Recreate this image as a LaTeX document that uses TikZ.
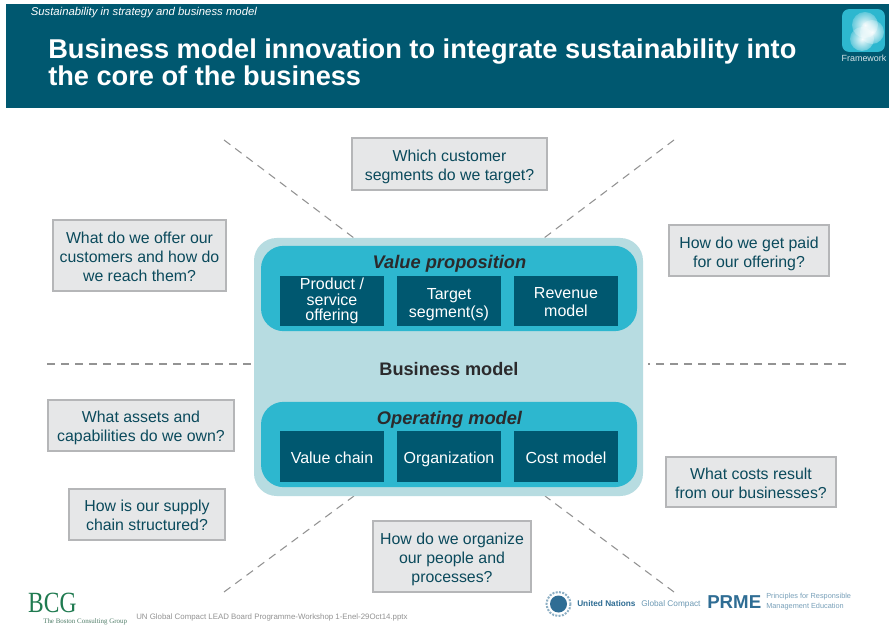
\documentclass[tikz,border=0pt]{standalone}
\usepackage{fontspec}
\setmainfont{Liberation Sans}
\newfontfamily\logoserif{Liberation Serif}
\usetikzlibrary{positioning,calc,fadings}
\definecolor{headblue}{HTML}{005870}
\definecolor{teal}{HTML}{2DB7CF}
\definecolor{paleteal}{HTML}{B7DCE1}
\definecolor{qfill}{HTML}{E6E7E8}
\definecolor{qedge}{HTML}{B5B6B8}
\definecolor{qtext}{HTML}{0B4A5C}
\definecolor{dtext}{HTML}{2B2A2C}
\definecolor{dashc}{HTML}{939393}
\definecolor{bcggreen}{HTML}{1F7A50}
\definecolor{unblue}{HTML}{2F6D94}
\tikzset{
  x=0.75pt,y=-0.75pt,
  qbox/.style={draw=qedge,line width=0.9pt,fill=qfill,text=qtext,inner sep=0pt,outer sep=0pt,align=center,font=\fontsize{11.9}{14.2}\selectfont},
  darkbox/.style={fill=headblue,text=white,inner sep=0pt,outer sep=0pt,align=center,minimum width=78pt,minimum height=38pt,font=\fontsize{12}{13.5}\selectfont},
  band/.style={fill=teal,rounded corners=17pt,minimum width=282pt,minimum height=64pt,inner sep=0pt,outer sep=0pt},
  guide/.style={dashc,line width=0.8pt,dash pattern=on 6pt off 4.5pt},
  glow/.style={fill=white,path fading=glowfade},
}
\tikzfading[name=glowfade,inner color=transparent!5,outer color=transparent!75]
\newcommand{\qnode}[7]{% name x0 y0 x1 y1 topstrut text
  \node[qbox,minimum width={(#4-#2)*0.75pt},minimum height={(#5-#3)*0.75pt}] (#1) at ({(#2+#4)/2},{(#3+#5)/2}) {\rule{0pt}{#6pt}#7};}
\begin{document}
\begin{tikzpicture}
\useasboundingbox (0,0) rectangle (889,627);
\fill[white] (0,0) rectangle (889,627);
% header
\node[fill=headblue,minimum width=662.25pt,minimum height=78pt,inner sep=0pt,outer sep=0pt] (header) at (447.5,56) {};
\node[anchor=west,text=white,font=\itshape\fontsize{8.5}{10}\selectfont,inner sep=0pt] (kicker) at (30.5,13) {Sustainability in strategy and business model};
\node[anchor=west,text=white,font=\bfseries\fontsize{20.4}{19}\selectfont,align=left,inner sep=0pt] (title) at (48,62.5) {Business model innovation to integrate sustainability into\\the core of the business};
% framework icon
\node[fill=teal,rounded corners=5pt,minimum width=32pt,minimum height=32pt,inner sep=0pt] (icon) at (863.5,30.5) {};
\fill[glow] (865,25) circle (13);
\fill[glow] (872,32) circle (12);
\fill[glow] (862,39) circle (12);
\node[text=white!85!headblue,font=\fontsize{6.7}{8}\selectfont,inner sep=0pt] (fw) at (864,58.5) {Framework};
% dashed guides
\coordinate (g1) at (224,140); \coordinate (m1) at (354,238);
\coordinate (g2) at (674,140); \coordinate (m2) at (544,238);
\coordinate (g3) at (47,364);  \coordinate (m3) at (254,364);
\coordinate (g4) at (846,364); \coordinate (m4) at (648,364);
\coordinate (g5) at (224,592); \coordinate (m5) at (354,496);
\coordinate (g6) at (674,592); \coordinate (m6) at (545,496);
\foreach \a/\b in {g1/m1,g2/m2,g3/m3,g4/m4,g5/m5,g6/m6} \draw[guide] (\a) -- (\b);
% main block
\node[fill=paleteal,rounded corners=17pt,minimum width=291.75pt,minimum height=193.5pt,inner sep=0pt,outer sep=0pt] (main) at (448.5,367) {};
\node[text=dtext,font=\bfseries\fontsize{13.6}{15}\selectfont,inner sep=0pt] (bm) at (449,369) {Business model};
\node[band] (vp) at (449,288.5) {};
\node[band] (om) at (449,444.5) {};
\node[text=dtext,font=\bfseries\itshape\fontsize{13.7}{15}\selectfont,inner sep=0pt] (vpt) at (449.5,264) {Value proposition};
\node[text=dtext,font=\bfseries\itshape\fontsize{13.7}{15}\selectfont,inner sep=0pt] (omt) at (449.5,420) {Operating model};
\node[darkbox,font=\fontsize{12}{11.7}\selectfont] (d1) at (332,301) {Product /\\service\\offering};
\node[darkbox] (d2) at (449,301) {\rule{0pt}{13.2pt}Target\\segment(s)};
\node[darkbox] (d3) at (566,301) {\rule{0pt}{10.2pt}Revenue\\model};
\node[darkbox] (d4) at (332,456.5) {\rule{0pt}{10.2pt}Value chain};
\node[darkbox] (d5) at (449,456.5) {\rule{0pt}{13.2pt}Organization};
\node[darkbox] (d6) at (566,456.5) {\rule{0pt}{10.2pt}Cost model};
% question boxes
\qnode{q1}{352}{138}{547}{190}{13.2}{Which customer\\segments do we target?}
\qnode{q2}{53}{220}{226}{291}{10.2}{What do we offer our\\customers and how do\\we reach them?}
\qnode{q3}{669}{225}{829}{276}{13.2}{How do we get paid\\for our offering?}
\qnode{q4}{48}{400}{234}{451}{11.7}{What assets and\\capabilities do we own?}
\qnode{q5}{69}{489}{225}{540}{10.2}{How is our supply\\chain structured?}
\qnode{q6}{373}{521}{531}{592}{12.5}{How do we organize\\our people and\\processes?}
\qnode{q7}{666}{457}{836}{507}{11}{What costs result\\from our businesses?}
% footer
\node[anchor=west,text=bcggreen,font=\logoserif\fontsize{22}{24}\selectfont,inner sep=0pt,xscale=0.8] (bcg) at (28,603) {BCG};
\node[anchor=west,text=bcggreen!50!gray,font=\logoserif\fontsize{5.2}{6}\selectfont,inner sep=0pt] (bcgsub) at (43,621.5) {The Boston Consulting Group};
\node[anchor=west,text=gray!85,font=\fontsize{5.9}{7}\selectfont,inner sep=0pt] (file) at (136,617.5) {UN Global Compact LEAD Board Programme-Workshop 1-Enel-29Oct14.pptx};
\draw[unblue!55,line width=1.5pt,densely dotted] (558.5,604) circle (12);
\fill[unblue] (558.5,604) circle (8.5);
\node[anchor=west,text=unblue,font=\bfseries\fontsize{6.2}{7}\selectfont,inner sep=0pt] (un) at (577,604) {United Nations};
\node[anchor=west,text=unblue!70,font=\fontsize{6.2}{7}\selectfont,inner sep=0pt] (gc) at (641,604) {Global Compact};
\node[anchor=west,text=unblue,font=\bfseries\fontsize{14}{15}\selectfont,inner sep=0pt] (prme) at (707,602.5) {PRME};
\node[anchor=west,text=unblue!65,font=\fontsize{5.5}{7.5}\selectfont,align=left,inner sep=0pt] (prmesub) at (766,602) {Principles for Responsible\\Management Education};
\end{tikzpicture}
\end{document}
